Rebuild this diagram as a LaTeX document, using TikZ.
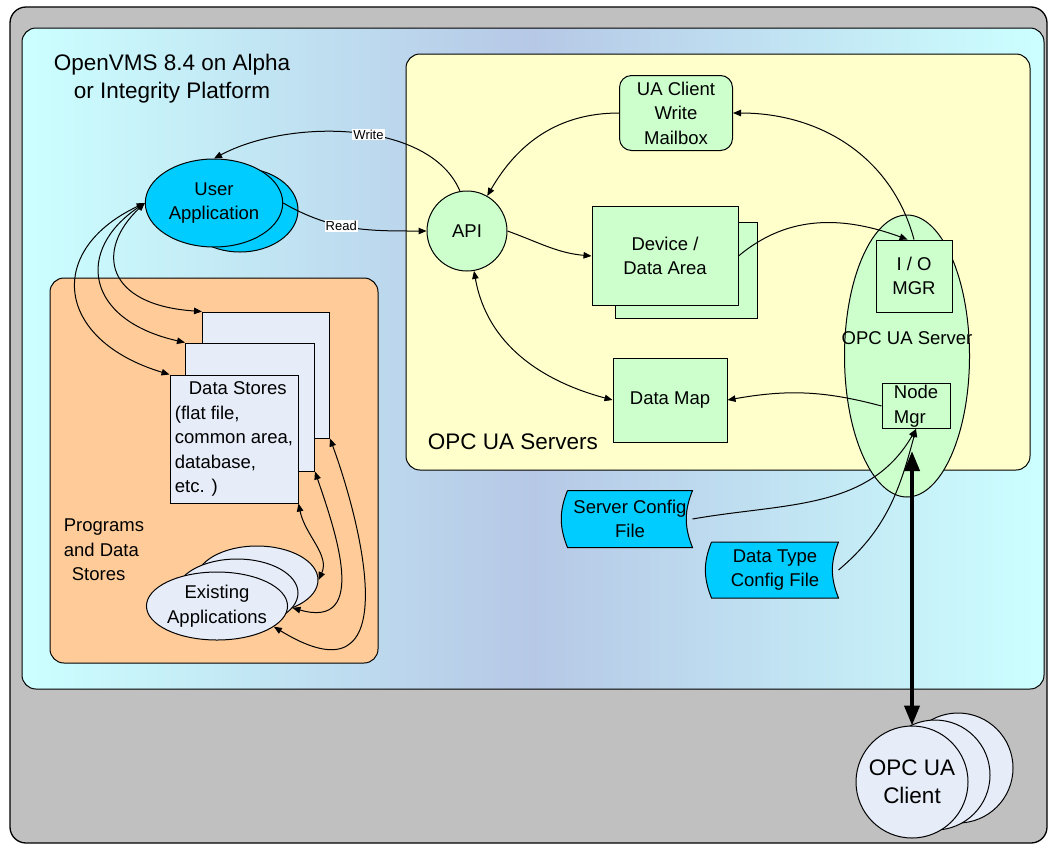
\documentclass[tikz,border=0pt]{standalone}
\usepackage{fontspec}
\setmainfont{Liberation Sans}
\usetikzlibrary{positioning, arrows.meta, shapes.geometric}

\definecolor{vmsgray}{HTML}{C0C0C0}
\definecolor{vmscyan}{HTML}{CCFFFF}
\definecolor{vmsblue}{HTML}{B6C8E6}
\definecolor{srvyellow}{HTML}{FFFFCC}
\definecolor{pgmorange}{HTML}{FFCC99}
\definecolor{mintgreen}{HTML}{CCFFCC}
\definecolor{appblue}{HTML}{00CCFF}
\definecolor{paleblue}{HTML}{E6ECF8}

\begin{document}
\begin{tikzpicture}[x=1pt, y=-1pt, line width=1pt,
    txt/.style={font=\fontsize{18.5}{24.5}\selectfont, align=center},
    big/.style={font=\fontsize{22.5}{28}\selectfont, align=center},
    lbl/.style={fill=white, inner sep=1pt, font=\fontsize{13}{14}\selectfont},
    box/.style={draw, fill=mintgreen, txt, inner sep=0pt},
    page/.style={draw, fill=paleblue, inner sep=0pt},
    cfg/.style={inner sep=0pt, minimum width=124, minimum height=56},
    flow/.style={-{Triangle[length=8pt, width=6.5pt]}},
    dflow/.style={{Triangle[length=8pt, width=6.5pt]}-{Triangle[length=8pt, width=6.5pt]}},
    bigflow/.style={{Triangle[length=20pt, width=15pt]}-{Triangle[length=20pt, width=15pt]}, line width=4pt}]
  \useasboundingbox (0,0) rectangle (1048,844);
  \draw[fill=vmsgray, rounded corners=16pt, line width=1.3pt] (10,7) rectangle (1047,843);
  \draw[rounded corners=14pt, left color=vmscyan, right color=vmscyan, middle color=vmsblue] (22,28) rectangle (1044,689);
  \draw[fill=srvyellow, rounded corners=14pt] (406,54) rectangle (1030,470);
  \draw[fill=pgmorange, rounded corners=14pt] (50,278) rectangle (378,663);

  \node[big] (title) at (172,79) {OpenVMS 8.4 on Alpha\\or Integrity Platform};
  \node[big, anchor=west] (srvtitle) at (424,442) {OPC UA Servers};
  \node[txt, align=left, anchor=west] (pgmlbl) at (60,550) {Programs\\and Data\\\hspace*{8pt}Stores};

  \node[ellipse, draw, fill=appblue, minimum width=116, minimum height=84] (ua2) at (240,210) {};
  \node[ellipse, draw, fill=appblue, minimum width=130, minimum height=88, txt] (ua) at (214,203) {User\\Application};

  \node[circle, draw, fill=mintgreen, minimum size=80, txt] (api) at (467,231) {API};
  \node[box, rounded corners=12pt, minimum width=113, minimum height=75] (mbox) at (676,113) {UA Client\\Write\\Mailbox};
  \node[box, minimum width=142, minimum height=96] (dev2) at (686,270) {};
  \node[box, minimum width=146, minimum height=99] (dev) at (665,256) {Device /\\Data Area};
  \node[box, minimum width=114, minimum height=84] (dmap) at (670,400) {Data Map};

  \node[ellipse, draw, fill=mintgreen, minimum width=125, minimum height=282] (srv) at (907,356) {};
  \node[txt] (srvlbl) at (907,338) {OPC UA Server};
  \node[box, minimum width=76, minimum height=72] (iomgr) at (914,276) {I / O\\MGR};
  \node[box, minimum width=68, minimum height=45, align=left] (nmgr) at (916,406) {Node\\Mgr};

  \node[page, minimum width=127, minimum height=126] (ds3) at (266,375) {};
  \node[page, minimum width=129, minimum height=128] (ds2) at (250,407) {};
  \node[page, minimum width=128, minimum height=128, txt, align=left] (ds1) at (234,439)
    {\hspace*{14pt}Data Stores\\(flat file,\\common area,\\database,\\etc. )};

  \node[ellipse, page, minimum width=122, minimum height=68] (ea3) at (257,580) {};
  \node[ellipse, page, minimum width=122, minimum height=68] (ea2) at (237,593) {};
  \node[ellipse, page, minimum width=122, minimum height=68, txt] (ea1) at (217,606) {Existing\\Applications};

  \node[cfg] (scf) at (630,519) {};
  \draw[fill=appblue] (scf.north west) -- (scf.north east) to[bend right=22] (scf.south east) -- (scf.south west) to[bend left=22] (scf.north west);
  \node[txt] (scftxt) at (scf) {Server Config\\File};
  \node[cfg, minimum width=126, minimum height=55] (dtcf) at (775,570) {};
  \draw[fill=appblue] (dtcf.north west) -- (dtcf.north east) to[bend right=22] (dtcf.south east) -- (dtcf.south west) to[bend left=22] (dtcf.north west);
  \node[txt] (dtcftxt) at (dtcf) {Data Type\\Config File};

  \node[circle, page, minimum size=110] (cl3) at (958,768) {};
  \node[circle, page, minimum size=110] (cl2) at (935,775) {};
  \node[circle, page, minimum size=112, big] (cl) at (912,782) {OPC UA\\Client};

  \draw[flow] (api.100) .. controls (430,120) and (290,118) .. node[lbl, pos=0.45] {Write} (ua.north);
  \draw[flow] (ua.east) to[out=-30, in=180] node[lbl, pos=0.42] {Read} (api.west);
  \draw[flow] (mbox.west) to[out=180, in=60] (api.60);
  \draw[flow] (iomgr.north) to[out=105, in=0] (mbox.east);
  \draw[flow] (api.east) to[out=-20, in=175] (dev.west);
  \draw[flow] (dev.east) to[out=40, in=160] (iomgr.100);
  \draw[dflow] (api.-80) to[out=-80, in=165] (dmap.west);
  \draw[flow] (nmgr.west) to[out=165, in=10] (dmap.east);
  \draw[flow] (scf.east) to[out=10, in=-120] (nmgr.south);
  \draw[flow] (dtcf.east) to[out=40, in=-105] (nmgr.south);
  \draw[bigflow, shorten <=22pt] (nmgr.south -| cl.north) -- (cl.north);

  \draw[dflow] (ua.west) .. controls (45,250) and (55,340) .. (ds1.north west);
  \draw[dflow] (ua.west) .. controls (75,250) and (85,320) .. (ds2.north west);
  \draw[dflow] (ua.west) .. controls (95,250) and (105,305) .. (ds3.north west);
  \draw[dflow] (ds1.south east) .. controls (305,535) and (330,555) .. (ea3.east);
  \draw[dflow] (ds2.south east) .. controls (335,530) and (370,630) .. (ea2.-15);
  \draw[dflow] (ds3.south east) .. controls (360,520) and (410,710) .. (ea1.-20);
\end{tikzpicture}
\end{document}
